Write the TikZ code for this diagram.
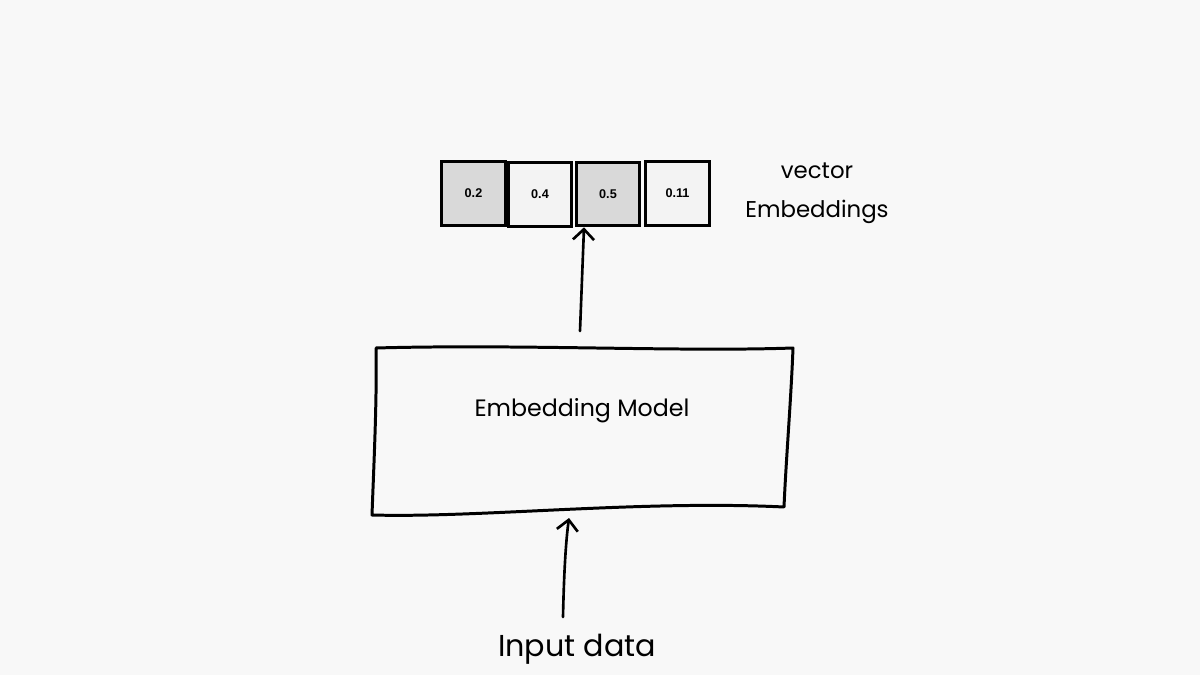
\documentclass[tikz,border=0pt]{standalone}
\usepackage{fontspec}
\setmainfont{Poppins}
\newfontfamily\cellfont{Liberation Sans}
\usetikzlibrary{arrows.meta}
\definecolor{bg}{HTML}{F8F8F8}
\definecolor{cellgray}{HTML}{D9D9D9}
\definecolor{celllight}{HTML}{F3F3F3}
\tikzset{
  cell/.style={draw=black, line width=1.8pt, minimum width=1.27cm, minimum height=1.27cm, inner sep=0pt, font=\cellfont\bfseries\fontsize{7.2}{8}\selectfont},
  sketch/.style={draw=black, line width=1.7pt, line cap=round, line join=round},
  arr/.style={draw=black, line width=1.5pt, line cap=round, -{Straight Barb[length=6pt,width=12pt,line width=1.5pt]}},
  hand/.style={font=\fontsize{13.5}{16}\selectfont, text=black}
}
\begin{document}
\begin{tikzpicture}[x=0.02cm, y=-0.02cm]
\fill[bg] (0,0) rectangle (1200,675);
\useasboundingbox (0,0) rectangle (1200,675);
% vector cells
\node[cell, fill=cellgray] (c1) at (473.5,193.5) {0.2};
\node[cell, fill=celllight] (c2) at (540,194.5) {0.4};
\node[cell, fill=cellgray] (c3) at (608,194) {0.5};
\node[cell, fill=celllight] (c4) at (677.5,193.5) {0.11};
\node[hand, align=center, font=\fontsize{13}{22}\selectfont] (ve) at (817,193) {vector\\Embeddings};
% model box
\coordinate (tl) at (376,348);
\coordinate (tr) at (793,348);
\coordinate (br) at (784,507);
\coordinate (bl) at (372,515);
\path[sketch] (tl) .. controls (520,344) and (680,352) .. (tr)
  .. controls (791,400) and (786,460) .. (br)
  .. controls (640,500) and (480,518) .. (bl)
  .. controls (374,460) and (377,400) .. (tl);
\node[hand] (model) at (582,411) {Embedding Model};
% arrows
\coordinate (a1s) at (580,331);
\draw[arr] (a1s) -- (c3.south -| 584,0);
\node[hand, font=\fontsize{17.2}{19}\selectfont] (input) at (577,649) {Input data};
\coordinate (a2s) at (563,617);
\coordinate (a2e) at (569,518);
\draw[arr] (a2s) .. controls (564,570) and (566,540) .. (a2e);
\end{tikzpicture}
\end{document}
